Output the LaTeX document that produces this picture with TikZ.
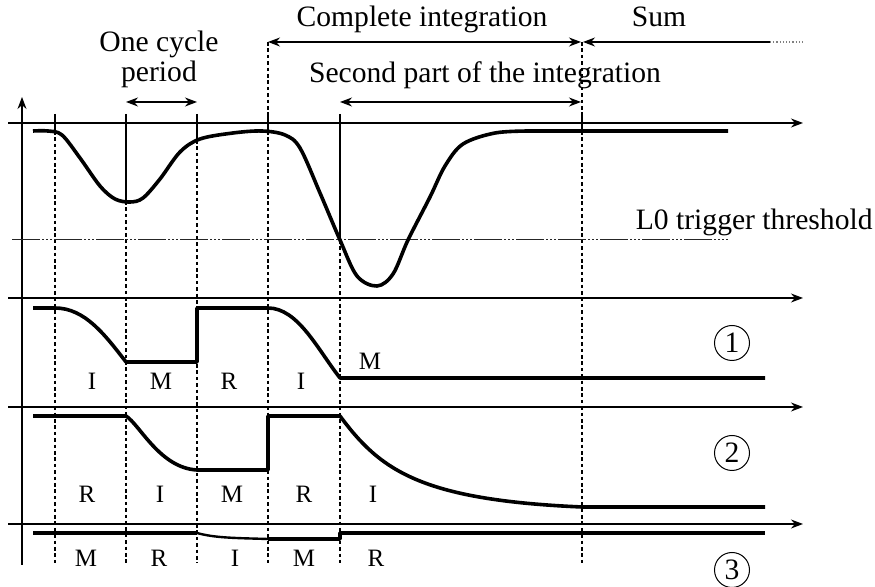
\documentclass[tikz,border=0pt]{standalone}
\usepackage{fontspec}
\setmainfont{Liberation Serif}
\usetikzlibrary{arrows.meta}

\begin{document}
\begin{tikzpicture}[x=0.5pt, y=-0.5pt,
    every node/.style={font=\fontsize{14.8}{16}\selectfont},
    ax/.style={line width=0.6pt, -{Stealth[length=6pt,width=4.5pt]}},
    span/.style={line width=0.6pt, {Stealth[length=6pt,width=4.5pt]}-{Stealth[length=6pt,width=4.5pt]}},
    sig/.style={line width=1.8pt, line join=round},
    grid/.style={line width=0.6pt, dash pattern=on 1.8pt off 1.4pt},
    thr/.style={line width=0.5pt, black!85, dash pattern=on 14pt off 1pt on 1pt off 1pt on 1pt off 1pt on 1pt off 1pt},
    lab/.style={font=\fontsize{12.5}{14}\selectfont, anchor=base},
    num/.style={circle, draw, line width=0.5pt, inner sep=0pt, minimum size=17.5pt}]
\useasboundingbox (0,0) rectangle (875,587);
% cycle boundaries
\foreach \x/\y in {55/131,126/201,197/140,268/131,340/240,582/131} {
    \draw[line width=0.6pt] (\x,114) -- (\x,\y);
    \draw[grid] (\x,\y) -- (\x,563);
}
\draw[grid] (268,42) -- (268,114);
\draw[grid] (582,42) -- (582,114);
% axes
\coordinate (o) at (22,565);
\coordinate (otop) at (22,97);
\draw[ax] (o) -- (otop);
\foreach \y/\n in {123/a,298/b,407/c,524/d} {
    \coordinate (\n0) at (8,\y);
    \coordinate (\n1) at (803,\y);
    \draw[ax] (\n0) -- (\n1);
}
% threshold
\coordinate (th0) at (12,240);
\coordinate (th1) at (728,240);
\draw[thr] (th0) -- (th1);
\node[anchor=base east, inner sep=0pt] (thlab) at (873,230) {L0 trigger threshold};
% spans
\coordinate (ci0) at (268,42);
\coordinate (ci1) at (581,42);
\coordinate (sm0) at (583,42);
\coordinate (sm1) at (770,42);
\coordinate (sm2) at (803,42);
\coordinate (cy0) at (126,102);
\coordinate (cy1) at (197,102);
\coordinate (sp0) at (340,102);
\coordinate (sp1) at (581,102);
\draw[span] (ci0) -- (ci1);
\draw[line width=0.6pt, {Stealth[length=6pt,width=4.5pt]}-] (sm0) -- (sm1);
\draw[line width=0.6pt, black!50, densely dotted] (sm1) -- (sm2);
\draw[span] (cy0) -- (cy1);
\draw[span] (sp0) -- (sp1);
\node[anchor=base] (cilab) at (422,27) {Complete integration};
\node[anchor=base] (smlab) at (659,27) {Sum};
\node[anchor=base] (cylab) at (159,52) {One cycle};
\node[anchor=base] (pdlab) at (159,82) {period};
\node[anchor=base] (splab) at (485,83) {Second part of the integration};
% input signal
\draw[sig] plot[smooth, tension=0.55] coordinates {(33,131) (48,131) (62,135) (80,158) (100,186) (115,199) (130,202) (143,198) (160,179) (180,152) (200,139) (233,133) (262,131) (285,135) (300,148) (320,193) (340,240) (357,276) (377,286) (393,274) (408,240) (430,197) (445,166) (463,144) (495,133) (530,131)} -- (728,131);
% integrator 1
\draw[sig] (33,308) -- (55,308) .. controls (85,308) and (105,335) .. (126,362) -- (197,362) -- (197,308) -- (268,308) .. controls (298,308) and (318,350) .. (340,378) -- (765,378);
% integrator 2
\draw[sig] (33,416) -- (126,416) .. controls (140,425) and (160,468) .. (197,470) -- (268,470) -- (268,416) -- (340,416) .. controls (380,470) and (420,500) .. (582,507) -- (765,507);
% integrator 3
\draw[sig] (33,533) -- (197,533);
\draw[line width=1.2pt] (197,533) .. controls (215,538) and (235,538) .. (268,539);
\draw[sig] (268,539) -- (340,539) -- (340,533) -- (765,533);
% phases
\foreach \x/\t in {92/I,161/M,229/R,301/I} \node[lab] (p1\t\x) at (\x,390) {\t};
\node[lab] (p1m) at (370,370) {M};
\foreach \x/\t in {87/R,160/I,232/M,304/R,373/I} \node[lab] (p2\t\x) at (\x,503) {\t};
\foreach \x/\t in {86/M,159/R,235/I,304/M,376/R} \node[lab] (p3\t\x) at (\x,567) {\t};
\node[num] (n1) at (732,343) {1};
\node[num] (n2) at (732,453) {2};
\node[num] (n3) at (732,570) {3};
\end{tikzpicture}
\end{document}
